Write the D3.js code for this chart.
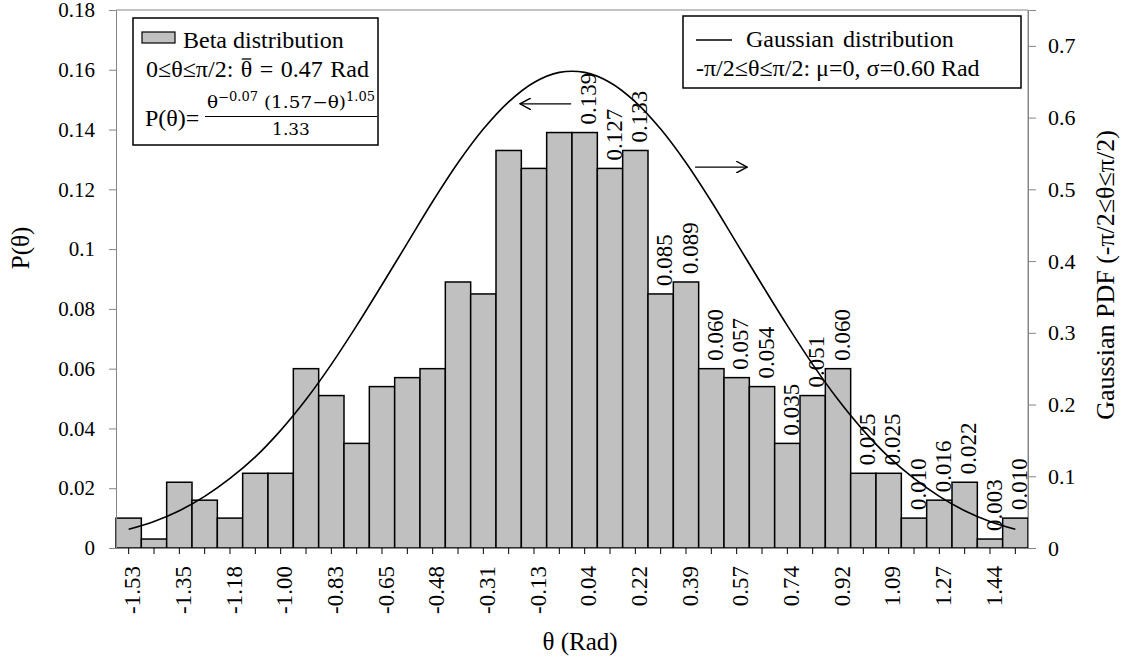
<!DOCTYPE html>
<html>
<head>
<meta charset="utf-8">
<script src="https://cdn.jsdelivr.net/npm/d3@7"></script>
<style>
    html, body { margin: 0; padding: 0; background: #fff; }
    svg { display: block; font-family: "Liberation Serif", "Times New Roman", serif; }
</style>
</head>
<body>
<svg id="chart" width="1122" height="659"></svg>
<script>
// Bin centres (rad) of the 36 histogram classes
const binLabels = ['-1.53', '-1.44', '-1.35', '-1.27', '-1.18', '-1.09', '-1.00', '-0.92', '-0.83',
    '-0.74', '-0.65', '-0.57', '-0.48', '-0.39', '-0.31', '-0.22', '-0.13', '-0.04',
    '0.04', '0.13', '0.22', '0.31', '0.39', '0.48', '0.57', '0.65', '0.74',
    '0.83', '0.92', '1.00', '1.09', '1.18', '1.27', '1.35', '1.44', '1.53'];

// Beta distribution probabilities (bars, left axis)
const betaProb = [0.010, 0.003, 0.022, 0.016, 0.010, 0.025, 0.025, 0.060, 0.051,
    0.035, 0.054, 0.057, 0.060, 0.089, 0.085, 0.133, 0.127, 0.139,
    0.139, 0.127, 0.133, 0.085, 0.089, 0.060, 0.057, 0.054, 0.035,
    0.051, 0.060, 0.025, 0.025, 0.010, 0.016, 0.022, 0.003, 0.010];

// Gaussian PDF read at the bin centres (line, right axis)
const gaussPdf = [0.026, 0.037, 0.052, 0.072, 0.097, 0.127, 0.164, 0.207, 0.256,
    0.310, 0.367, 0.425, 0.483, 0.537, 0.584, 0.622, 0.649, 0.663,
    0.663, 0.649, 0.622, 0.584, 0.537, 0.483, 0.425, 0.367, 0.310,
    0.256, 0.207, 0.164, 0.127, 0.097, 0.072, 0.052, 0.037, 0.026];

// Axis ticks
const leftTicks = [0, 0.02, 0.04, 0.06, 0.08, 0.1, 0.12, 0.14, 0.16, 0.18];
const rightTicks = [0, 0.1, 0.2, 0.3, 0.4, 0.5, 0.6, 0.7];

// Arrows pointing to each axis: [x0 (rad), x1 (rad), value, axis]
const arrows = [
    { from: -0.003, to: -0.179, value: 0.1486, axis: 'left' },
    { from: 0.424, to: 0.603, value: 0.531, axis: 'right' }
];

const svg = d3.select('#chart');
const plot = { left: 116, right: 1028, top: 10, bottom: 548 };
const axisColor = '#868686';

// Scales
const x = d3.scaleBand().domain(binLabels).range([plot.left, plot.right]).padding(0);
const xLin = d3.scaleLinear().domain([-Math.PI / 2, Math.PI / 2]).range([plot.left, plot.right]);
const yLeft = d3.scaleLinear().domain([0, 0.18]).range([plot.bottom, plot.top]);
const yRight = d3.scaleLinear().domain([0, 0.75]).range([plot.bottom, plot.top]);

const data = binLabels.map((b, i) => ({ bin: b, p: betaProb[i], g: gaussPdf[i] }));

// Plot frame (top + right border)
svg.append('path')
    .attr('d', `M${plot.left},${plot.top}H${plot.right}V${plot.bottom}`)
    .attr('fill', 'none')
    .attr('stroke', axisColor)
    .attr('stroke-width', 1);

// Bars
svg.append('g').selectAll('rect')
    .data(data)
    .join('rect')
    .attr('x', d => x(d.bin))
    .attr('y', d => yLeft(d.p))
    .attr('width', x.bandwidth())
    .attr('height', d => yLeft(0) - yLeft(d.p))
    .attr('fill', '#c0c0c0')
    .attr('stroke', '#000')
    .attr('stroke-width', 1.5);

// Left axis
const leftAxis = svg.append('g')
    .attr('transform', `translate(${plot.left},0)`)
    .call(d3.axisLeft(yLeft).tickValues(leftTicks).tickSize(7).tickPadding(14)
        .tickFormat(d => String(+d.toFixed(2))));
leftAxis.selectAll('path, line').attr('stroke', axisColor);
leftAxis.selectAll('text')
    .attr('font-family', '"Liberation Serif", serif')
    .attr('font-size', 21)
    .attr('fill', '#000');

// Right axis
const rightAxis = svg.append('g')
    .attr('transform', `translate(${plot.right},0)`)
    .call(d3.axisRight(yRight).tickValues(rightTicks).tickSize(8).tickPadding(12)
        .tickFormat(d => String(+d.toFixed(1))));
rightAxis.selectAll('path, line').attr('stroke', axisColor);
rightAxis.selectAll('text')
    .attr('font-family', '"Liberation Serif", serif')
    .attr('font-size', 22)
    .attr('fill', '#000');

// Bottom axis: tick at every bin, label every other bin
const bottomAxis = svg.append('g')
    .attr('transform', `translate(0,${plot.bottom})`)
    .call(d3.axisBottom(x).tickSize(6).tickSizeOuter(0)
        .tickFormat((d, i) => i % 2 === 0 ? d : ''));
bottomAxis.select('.domain').attr('stroke', axisColor);
bottomAxis.selectAll('line').attr('stroke', '#000');
bottomAxis.selectAll('text')
    .attr('font-family', '"Liberation Serif", serif')
    .attr('font-size', 23)
    .attr('fill', '#000')
    .attr('text-anchor', 'end')
    .attr('transform', 'rotate(-90)')
    .attr('x', -18)
    .attr('y', 0)
    .attr('dy', '0.5em');

// Gaussian curve
const line = d3.line()
    .x(d => x(d.bin) + x.bandwidth() / 2)
    .y(d => yRight(d.g))
    .curve(d3.curveCatmullRom);

svg.append('path')
    .datum(data)
    .attr('d', line)
    .attr('fill', 'none')
    .attr('stroke', '#000')
    .attr('stroke-width', 1.6);

// Value labels on the right half
svg.append('g').selectAll('text')
    .data(data.filter(d => +d.bin > 0))
    .join('text')
    .attr('transform', d => `translate(${x(d.bin) + x.bandwidth() / 2},${yLeft(d.p) - 8}) rotate(-90)`)
    .attr('dy', '0.5em')
    .attr('font-size', 23)
    .attr('text-anchor', 'start')
    .text(d => d.p.toFixed(3));

// Arrows
const defs = svg.append('defs');
defs.append('marker')
    .attr('id', 'arrowHead')
    .attr('viewBox', '0 0 12 12')
    .attr('refX', 11)
    .attr('refY', 6)
    .attr('markerWidth', 12)
    .attr('markerHeight', 12)
    .attr('markerUnits', 'userSpaceOnUse')
    .attr('orient', 'auto')
    .append('path')
    .attr('d', 'M0,0L11,6L0,12')
    .attr('fill', 'none')
    .attr('stroke', '#000')
    .attr('stroke-width', 1.4);

svg.append('g').selectAll('line')
    .data(arrows)
    .join('line')
    .attr('x1', d => xLin(d.from))
    .attr('x2', d => xLin(d.to))
    .attr('y1', d => (d.axis === 'left' ? yLeft : yRight)(d.value))
    .attr('y2', d => (d.axis === 'left' ? yLeft : yRight)(d.value))
    .attr('stroke', '#000')
    .attr('stroke-width', 1.4)
    .attr('marker-end', 'url(#arrowHead)');

// Axis titles
svg.append('text')
    .attr('x', (plot.left + plot.right) / 2 + 8)
    .attr('y', 650)
    .attr('text-anchor', 'middle')
    .attr('font-size', 25)
    .text('θ (Rad)');

svg.append('text')
    .attr('transform', 'translate(29,248) rotate(-90)')
    .attr('text-anchor', 'middle')
    .attr('font-size', 25)
    .text('P(θ)');

svg.append('text')
    .attr('transform', 'translate(1114,275) rotate(-90)')
    .attr('text-anchor', 'middle')
    .attr('font-size', 26)
    .text('Gaussian PDF (-π/2≤θ≤π/2)');

// Left legend (Beta distribution)
const legL = svg.append('g');
legL.append('rect')
    .attr('x', 133).attr('y', 18).attr('width', 245).attr('height', 127)
    .attr('fill', '#fff').attr('stroke', '#000').attr('stroke-width', 1.5);
legL.append('rect')
    .attr('x', 142).attr('y', 32).attr('width', 33).attr('height', 11)
    .attr('fill', '#c0c0c0').attr('stroke', '#000').attr('stroke-width', 1.2);
legL.append('text')
    .attr('x', 183).attr('y', 48).attr('font-size', 24)
    .text('Beta distribution');

// mean line with an overbar on theta
const meanPrefix = '0≤θ≤π/2: ';
const meanText = legL.append('text')
    .attr('x', 146).attr('y', 77).attr('font-size', 24)
    .attr('word-spacing', 1.5);
meanText.append('tspan').text(meanPrefix);
meanText.append('tspan').text('θ');
meanText.append('tspan').text(' = 0.47 Rad');
const mNode = meanText.node();
const barX0 = mNode.getStartPositionOfChar(meanPrefix.length).x;
const barX1 = mNode.getEndPositionOfChar(meanPrefix.length).x;
legL.append('line')
    .attr('x1', barX0 + 1).attr('x2', barX1 - 1)
    .attr('y1', 59).attr('y2', 59)
    .attr('stroke', '#000').attr('stroke-width', 1.3);

legL.append('text')
    .attr('x', 145).attr('y', 126).attr('font-size', 24)
    .text('P(θ)=');

const mathFont = '"DejaVu Serif", serif';
const num = legL.append('text')
    .attr('x', 207).attr('y', 108)
    .attr('font-family', mathFont)
    .attr('font-size', 17)
    .attr('textLength', 168)
    .attr('lengthAdjust', 'spacingAndGlyphs');
num.append('tspan').text('θ');
num.append('tspan').attr('dy', -7).attr('font-size', 12).text('−0.07');
num.append('tspan').attr('dy', 7).text(' (1.57−θ)');
num.append('tspan').attr('dy', -7).attr('font-size', 12).text('1.05');

legL.append('line')
    .attr('x1', 205).attr('x2', 377).attr('y1', 116.5).attr('y2', 116.5)
    .attr('stroke', '#000').attr('stroke-width', 1.2);
legL.append('text')
    .attr('x', 291).attr('y', 135)
    .attr('text-anchor', 'middle')
    .attr('font-family', mathFont)
    .attr('font-size', 17)
    .text('1.33');

// Right legend (Gaussian distribution)
const legR = svg.append('g');
legR.append('rect')
    .attr('x', 683).attr('y', 16).attr('width', 338).attr('height', 72)
    .attr('fill', '#fff').attr('stroke', '#000').attr('stroke-width', 1.5);
legR.append('line')
    .attr('x1', 696).attr('x2', 732).attr('y1', 40).attr('y2', 40)
    .attr('stroke', '#000').attr('stroke-width', 1.6);
legR.append('text')
    .attr('x', 746).attr('y', 47).attr('font-size', 24)
    .attr('word-spacing', 3)
    .text('Gaussian distribution');
legR.append('text')
    .attr('x', 696).attr('y', 76).attr('font-size', 24)
    .text('-π/2≤θ≤π/2: μ=0, σ=0.60 Rad');
</script>
</body>
</html>
